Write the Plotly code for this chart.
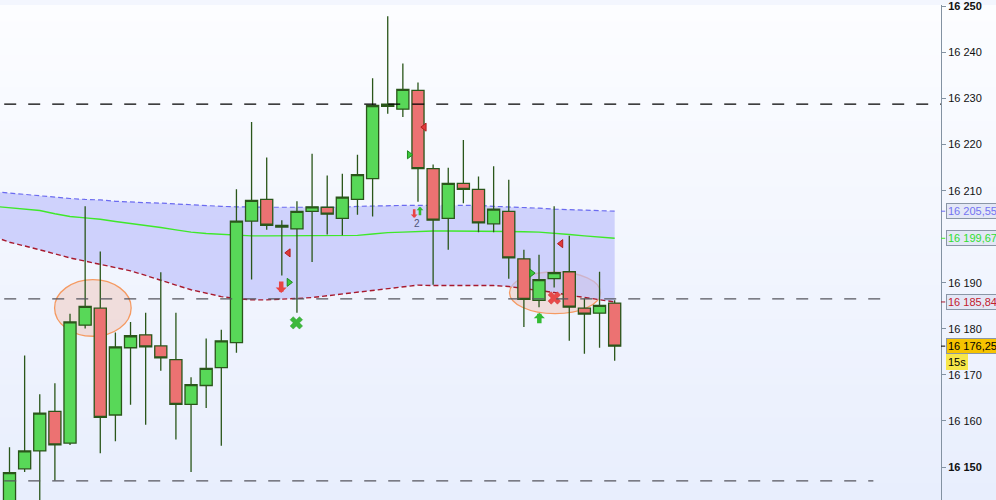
import plotly.graph_objects as go

# ---------------- data ----------------
candle_idx = list(range(41))
opens  = [16140.5,16149.6,16153.5,16162.1,16155.2,16180.8,16184.5,16161.3,16175.9,16178.7,
          16176.3,16173.3,16163.6,16167.7,16171.6,16177.0,16203.4,16208.1,16202.45,16201.7,
          16205.5,16206.4,16204.0,16208.1,16212.6,16228.8,16227.7,16231.8,16214.8,16204.0,
          16211.6,16210.3,16202.8,16205.5,16195.2,16186.2,16190.9,16192.4,16184.5,16183.4,16185.6]
highs  = [16154.3,16174.2,16165.8,16168.2,16183.3,16206.6,16196.8,16179.2,16181.5,16183.5,
          16192.3,16183.5,16169.5,16177.9,16179.8,16210.3,16224.9,16217.2,16203.6,16207.7,
          16218.0,16213.3,16213.7,16217.8,16234.4,16247.9,16237.6,16233.5,16215.7,16215.0,
          16221.0,16213.1,16215.3,16212.4,16197.2,16196.1,16206.6,16200.2,16186.6,16192.4,16186.2]
lows   = [16137.0,16148.9,16140.0,16147.1,16154.8,16180.1,16153.0,16155.6,16163.5,16159.2,
          16170.9,16156.0,16148.9,16162.8,16154.6,16174.8,16190.7,16201.5,16191.6,16183.5,
          16194.5,16200.5,16200.3,16204.8,16204.4,16226.7,16226.0,16207.6,16189.6,16197.2,
          16207.3,16201.0,16201.0,16190.9,16180.4,16184.7,16189.0,16177.4,16174.6,16175.9,16173.1]
closes = [16148.8,16153.5,16161.7,16154.8,16181.5,16184.9,16160.8,16176.1,16178.5,16176.1,
          16173.7,16163.6,16167.9,16171.4,16177.4,16203.4,16207.9,16202.5,16202.1,16205.5,
          16206.5,16204.9,16208.6,16213.5,16228.5,16228.3,16232.0,16214.8,16203.6,16211.6,
          16210.3,16203.0,16206.0,16195.4,16186.4,16190.7,16192.2,16184.7,16183.2,16185.1,16176.25]

band_idx = list(range(-1, 41))
band_upper = [16209.8,16209.5,16209.1,16208.8,16208.5,16208.3,16208.1,16208.0,16207.7,16207.5,16207.4,
              16207.3,16207.1,16207.0,16206.8,16206.6,16206.5,16206.4,16206.4,16206.4,16206.4,16206.4,
              16206.4,16206.4,16206.6,16206.7,16206.8,16206.8,16206.8,16206.8,16206.8,16206.8,16206.8,
              16206.6,16206.5,16206.4,16206.2,16206.0,16205.9,16205.8,16205.65,16205.55]
band_mid   = [16206.6,16206.25,16206.0,16205.7,16205.0,16204.4,16204.1,16203.8,16203.3,16202.9,16202.5,
              16202.0,16201.5,16201.0,16200.7,16200.5,16200.3,16200.2,16200.2,16200.2,16200.2,16200.2,
              16200.2,16200.2,16200.3,16200.6,16200.9,16201.0,16201.2,16201.25,16201.25,16201.25,16201.25,
              16201.25,16201.2,16201.1,16201.0,16200.8,16200.5,16200.2,16199.9,16199.67]
band_lower = [16200.0,16198.8,16198.0,16197.2,16196.3,16195.4,16194.7,16194.1,16193.3,16192.6,16191.6,
              16190.5,16189.5,16188.5,16187.7,16187.0,16186.6,16186.3,16186.3,16186.4,16186.6,16186.8,
              16187.2,16187.55,16187.9,16188.3,16188.8,16189.2,16189.5,16189.4,16189.4,16189.4,16189.4,
              16189.4,16189.2,16188.8,16188.35,16187.9,16187.3,16186.8,16186.3,16185.84]

levels = [16228.8, 16186.5, 16147.0]
level_start = [-0.35, -0.35, -0.35]
level_end = [61.6, 57.6, 57.1]
level_colors = ["#000000", "#55555e", "#55555e"]

# zones (ellipses): index range and price range
zones_x0 = [2.98, 33.05]
zones_x1 = [8.04, 39.07]
zones_y0 = [16178.4, 16183.3]
zones_y1 = [16190.7, 16192.4]

tri_left_x = [18.43, 27.42, 36.45]
tri_left_y = [16196.5, 16223.8, 16198.5]
tri_right_x = [18.47, 26.42, 34.51]
tri_right_y = [16190.1, 16217.8, 16192.1]
xg_x, xg_y = [18.96], [16181.3]
xr_x, xr_y = [36.01], [16186.7]
down_x = [17.96, 26.75]
down_y = [16187.8, 16204.1]
down_big = [True, False]
up_x = [27.13, 35.02]
up_y = [16206.5, 16183.5]
up_big = [False, True]
count_x, count_y, count_txt = [26.91], [16202.9], ["2"]

tick_vals = [16150, 16160, 16170, 16180, 16190, 16210, 16220, 16230, 16240, 16250]
tick_text = ["<b>16 150</b>", "16 160", "16 170", "16 180", "16 190",
             "16 210", "16 220", "16 230", "16 240", "<b>16 250</b>"]

price_labels = [16205.55, 16199.67, 16185.84, 16176.25]
price_texts = ["16 205,55", "16 199,67", "16 185,84", "16 176,25"]
price_fg = ["#7373f2", "#2fe02f", "#c4202e", "#000000"]
price_bg = ["#e3e7f6", "#e3e7f6", "#e3e7f6", "#f6c300"]
price_tick = ["#6b6bf0", "#3fe82a", "#a81a2e", "#000000"]
timer_text = "15s"
timer_y = 16172.9

XR = [-0.628, 61.57]
YR = [16142.84, 16250.32]

# ---------------- figure ----------------
fig = go.Figure()

fig.add_trace(go.Scatter(x=band_idx, y=band_upper, mode="lines",
                         line=dict(color="#6b6bf0", width=1.2, dash="5px,3px"),
                         hoverinfo="skip", showlegend=False))
fig.add_trace(go.Scatter(x=band_idx, y=band_lower, mode="lines", fill="tonexty",
                         fillcolor="rgba(188,192,250,0.68)",
                         line=dict(color="#a81a2e", width=1.4, dash="5px,3px"),
                         hoverinfo="skip", showlegend=False))
fig.add_trace(go.Scatter(x=band_idx, y=band_mid, mode="lines",
                         line=dict(color="#3fe82a", width=1.4),
                         hoverinfo="skip", showlegend=False))

fig.add_trace(go.Candlestick(
    x=candle_idx, open=opens, high=highs, low=lows, close=closes,
    xaxis="x2", yaxis="y2",
    increasing=dict(fillcolor="#58d858", line=dict(color="#2a561a", width=1.3)),
    decreasing=dict(fillcolor="#ec7272", line=dict(color="#2a561a", width=1.3)),
    whiskerwidth=0, showlegend=False, hoverinfo="skip"))

fig.add_trace(go.Scatter(x=tri_left_x, y=tri_left_y, mode="markers", xaxis="x2", yaxis="y2",
                         marker=dict(symbol="triangle-left", size=7, color="#e03a3a",
                                     line=dict(color="#b02020", width=1)),
                         showlegend=False, hoverinfo="skip"))
fig.add_trace(go.Scatter(x=tri_right_x, y=tri_right_y, mode="markers", xaxis="x2", yaxis="y2",
                         marker=dict(symbol="triangle-right", size=7, color="#3cc83c",
                                     line=dict(color="#1f8a1f", width=1)),
                         showlegend=False, hoverinfo="skip"))
fig.add_trace(go.Scatter(x=xg_x, y=xg_y, mode="markers", xaxis="x2", yaxis="y2",
                         marker=dict(symbol="x", size=11, color="#3cb83c",
                                     line=dict(color="#2e9e2e", width=0.5)),
                         showlegend=False, hoverinfo="skip"))
fig.add_trace(go.Scatter(x=xr_x, y=xr_y, mode="markers", xaxis="x2", yaxis="y2",
                         marker=dict(symbol="x", size=11, color="#e84a4a",
                                     line=dict(color="#d03030", width=0.5)),
                         showlegend=False, hoverinfo="skip"))

shapes = []
# background gradient
N = 60
top = (252, 253, 255)
bot = (232, 238, 253)
for k in range(N):
    t = (k + 0.5) / N
    c = tuple(int(round(top[j] + (bot[j] - top[j]) * t)) for j in range(3))
    shapes.append(dict(type="rect", xref="paper", yref="paper",
                       x0=0, x1=1.07, y0=1 - (k + 1) / N - 0.002, y1=1 - k / N,
                       fillcolor="rgb(%d,%d,%d)" % c, line=dict(width=0), layer="below"))
for a, b, c, d in zip(zones_x0, zones_x1, zones_y0, zones_y1):
    shapes.append(dict(type="circle", xref="x", yref="y", x0=a, x1=b, y0=c, y1=d,
                       fillcolor="rgba(240,185,165,0.38)",
                       line=dict(color="#f59a62", width=1.3), layer="below"))
for lv, s, e, col in zip(levels, level_start, level_end, level_colors):
    shapes.append(dict(type="line", xref="x", yref="y", x0=s, x1=e, y0=lv, y1=lv,
                       line=dict(color=col, width=1.4, dash="12px,12px"), layer="above"))

annotations = []
for x, y, big in zip(down_x, down_y, down_big):
    w = 4.5 if big else 2.6
    annotations.append(dict(x=x, y=y, xref="x", yref="y", ax=0, ay=-13 if big else -10,
                            text="", showarrow=True, arrowhead=1,
                            arrowwidth=w, arrowsize=(1.85 if big else 1.15) / w,
                            arrowcolor="#e84444"))
for x, y, big in zip(up_x, up_y, up_big):
    w = 4.5 if big else 2.6
    annotations.append(dict(x=x, y=y, xref="x", yref="y", ax=0, ay=12 if big else 10,
                            text="", showarrow=True, arrowhead=1,
                            arrowwidth=w, arrowsize=(1.85 if big else 1.15) / w,
                            arrowcolor="#33bb33"))
for x, y, t in zip(count_x, count_y, count_txt):
    annotations.append(dict(x=x, y=y, xref="x", yref="y", text=t, showarrow=False,
                            font=dict(size=10, color="#4e5478", family="Liberation Sans")))
for y, t, fg, bg, tc in zip(price_labels, price_texts, price_fg, price_bg, price_tick):
    annotations.append(dict(x=1, xref="paper", y=y, yref="y", xanchor="left", xshift=5,
                            text=t, showarrow=False, align="left",
                            font=dict(size=11, color=fg, family="Liberation Sans"),
                            bgcolor=bg, bordercolor="#8a96a6", borderwidth=1, borderpad=1))
    shapes.append(dict(type="line", xref="paper", yref="y", x0=1, x1=1.0045, y0=y, y1=y,
                       line=dict(color=tc, width=1), layer="above"))
annotations.append(dict(x=1, xref="paper", y=timer_y, yref="y", xanchor="left", xshift=5,
                        text=timer_text, showarrow=False,
                        font=dict(size=11, color="#000000", family="Liberation Sans"),
                        bgcolor="#f7e64a", bordercolor="#f7e64a", borderwidth=1, borderpad=1))

fig.update_layout(
    width=996, height=500,
    margin=dict(l=0, r=55, t=0, b=0),
    paper_bgcolor="#f3f6fe", plot_bgcolor="rgba(0,0,0,0)",
    shapes=shapes, annotations=annotations,
    boxgap=0.2, boxgroupgap=0,
    xaxis=dict(range=XR, visible=False, rangeslider=dict(visible=False),
               showgrid=False, zeroline=False),
    xaxis2=dict(range=XR, visible=False, overlaying="x", rangeslider=dict(visible=False),
                showgrid=False, zeroline=False),
    yaxis=dict(range=YR, side="right", showgrid=False, zeroline=False,
               showline=True, linecolor="#8392a2", linewidth=1,
               ticks="outside", ticklen=4, tickcolor="#8392a2",
               tickvals=tick_vals, ticktext=tick_text, ticklabeloverflow="allow",
               tickfont=dict(size=11, color="#111111", family="Liberation Sans")),
    yaxis2=dict(range=YR, overlaying="y", side="right", visible=False,
                showgrid=False, zeroline=False),
    font=dict(family="Liberation Sans"),
    hovermode=False,
)

fig.write_html("out.html", config={"displayModeBar": False},
               post_script="document.body.style.margin='0';document.body.style.padding='0';")
